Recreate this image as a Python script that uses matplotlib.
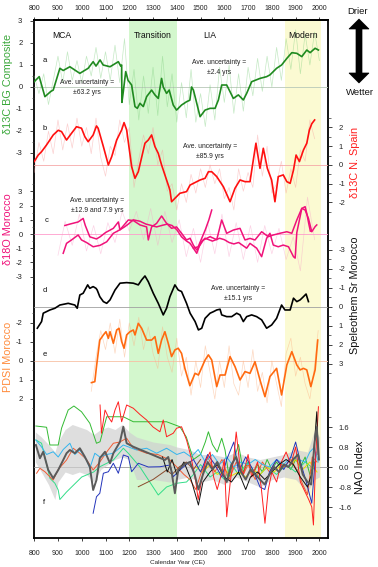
import matplotlib
matplotlib.use("Agg")
import matplotlib.pyplot as plt
from matplotlib.patches import Polygon
from matplotlib.ticker import FixedLocator

plt.rcParams['font.family'] = ['Liberation Sans', 'DejaVu Sans']
plt.rcParams['axes.unicode_minus'] = False

# ---------------- data ----------------
# panel a: d13C BG composite (smoothed)
a_year = [800, 821, 845, 870, 880, 908, 922, 950, 992, 1027, 1048, 1060, 1077, 1090, 1119, 1154, 1164, 1168,
          1169, 1175, 1185, 1195, 1210, 1224, 1234, 1245, 1259, 1273, 1294, 1308, 1322, 1336, 1343, 1357, 1368,
          1385, 1399, 1420, 1441, 1455, 1462, 1470, 1498, 1519, 1540, 1561, 1575, 1589, 1610, 1638, 1659, 1680,
          1694, 1715, 1750, 1778, 1792, 1820, 1841, 1863, 1884, 1905, 1926, 1947, 1961, 1982, 1996]
a_val = [0.24, 0.47, -0.44, -0.2, -0.14, 0.85, 0.75, 0.92, 0.62, 0.85, 1.15, 0.95, 1.23, 1.0, 0.92, 1.15, 0.95, 1.0,
         -0.7, -0.2, 0.7, 0.3, 0.09, -0.89, -0.97, -0.74, -0.89, -0.44, -0.14, -0.36, -0.52, 0.39, 0.0, -0.29, -0.14,
         -0.82, -1.05, -0.82, -0.67, -0.6, 0.0, -0.14, -1.35, -1.05, -0.97, -0.97, -0.59, 0.09, 0.09, -0.52, -0.36, -0.59,
         -0.29, 0.24, 0.39, 0.47, 0.55, 0.85, 1.0, 1.3, 1.56, 1.53, 1.38, 1.68, 1.56, 1.76, 1.68]
a_raw_year = list(range(800, 2001, 20))
a_raw = [0.5, -0.3, 0.6, -0.8, 0.3, 1.4, 0.2, 1.6, 0.3, 1.2, 0.2, 1.4, 0.5, 1.8, 0.4, 1.6, 0.3, 1.9, 0.2, 2.2,
         -0.8, 0.8, -1.5, 0.5, -1.2, 0.9, -1.3, 1.4, -0.9, 0.6, -1.6, 0.2, -1.4, 0.8, -1.6, -0.3, -1.8, 0.1, -1.5, 0.9,
         -0.7, 1.0, -1.2, 0.6, -1.1, 0.9, -0.4, 1.3, -0.2, 1.4, 0.0, 1.8, 0.3, 2.2, 0.8, 2.6, 0.6, 2.4, 1.0, 2.5, 1.2]

# panel b: d13C N. Spain
b_year = [800, 817, 831, 852, 880, 901, 915, 936, 957, 978, 999, 1013, 1027, 1048, 1062, 1069, 1091, 1112, 1126,
          1147, 1168, 1178, 1189, 1210, 1224, 1238, 1266, 1280, 1294, 1308, 1322, 1336, 1357, 1371, 1378, 1392,
          1413, 1441, 1456, 1498, 1519, 1533, 1547, 1568, 1596, 1624, 1645, 1666, 1687, 1708, 1722, 1733, 1750,
          1764, 1781, 1799, 1813, 1827, 1848, 1863, 1877, 1891, 1902, 1916, 1933, 1947, 1958, 1968, 1980]
b_val = [0.18, 0.53, 0.71, 1.07, 1.6, 1.85, 1.78, 1.33, 1.69, 2.04, 1.96, 1.51, 1.24, 1.6, 2.08, 1.96, 0.98, 0.0, 0.44,
         1.33, 1.87, 2.26, 1.87, -0.09, -0.71, -0.36, 1.16, 1.33, 1.6, 0.98, 0.62, 0.0, -0.8, -1.33, -1.96, -1.78,
         -1.51, -1.42, -1.07, -0.8, -0.71, -0.36, -0.36, -0.62, -1.16, -1.96, -1.24, -0.8, -0.89, -0.89, 0.27, 1.16, -0.18,
         0.89, -0.18, -0.8, -1.96, -0.62, -0.53, -0.89, -0.98, -0.27, 0.53, 0.18, 0.8, 1.16, 1.87, 2.2, 2.4]
b_raw_year = list(range(800, 1981, 20))
b_raw = [-0.4, 1.2, 0.2, 1.8, 0.6, 2.4, 0.8, 2.2, 0.9, 2.5, 1.0, 2.0, 0.6, 2.5, 0.4, -0.6, 1.0, 0.5, 2.4, 1.2,
         2.0, -1.2, 0.3, 1.6, 0.6, 2.0, 0.0, 0.8, -1.4, -1.0, -2.4, -1.0, -2.0, -0.5, -1.5, -0.2, -1.2, 0.0, -1.0, -0.2,
         -1.8, -1.2, -2.4, -0.2, -1.4, -0.4, -1.2, 1.6, -0.6, 1.0, -1.5, -1.0, 0.2, -1.5, -0.2, -1.2, 0.8, 0.2, 2.4, 1.4]

# panel c: d18O Morocco (two records)
c1_year = [929, 950, 985, 1006, 1015, 1034, 1062, 1077, 1100, 1133, 1154, 1161, 1180, 1196, 1217, 1245, 1270,
           1294, 1315, 1336, 1360, 1380, 1400, 1420, 1441, 1456, 1484, 1500, 1519, 1550, 1580, 1600, 1620, 1640,
           1660, 1694, 1708, 1736, 1757, 1778, 1792, 1806, 1827, 1848, 1870, 1891, 1898, 1905, 1926, 1940, 1947,
           1955, 1962]
c1_val = [0.6, 0.7, 0.85, 1.1, 0.6, -0.2, -0.35, -0.2, 0.1, 0.4, 0.85, 0.3, 0.5, 0.7, 1.0, 0.9, 0.7,
          0.6, 0.5, 0.6, 0.7, 0.6, 0.3, -0.2, -0.5, -0.66, -1.36, -0.6, -0.3, -0.5, -0.3, -0.4, -0.6, -0.7,
          -0.6, -1.0, -0.66, -1.0, -1.6, -0.3, 0.05, -0.78, -0.9, -0.78, -0.9, -1.6, -1.7, 0.1, 1.8, 1.93, 1.45,
          0.75, 0.2]
c2_year = [922, 936, 957, 985, 999, 1020, 1048, 1077, 1105, 1133, 1161, 1196, 1217, 1245, 1273, 1280, 1294,
           1315, 1336, 1357, 1378, 1399, 1420, 1441, 1456, 1470, 1484, 1512, 1540, 1568, 1589, 1610, 1638, 1666,
           1687, 1708, 1729, 1757, 1785, 1806, 1834, 1863, 1884, 1905, 1926, 1940, 1954, 1968, 1982, 1989]
c2_val = [-1.36, -0.66, -0.42, -0.07, -0.42, -0.6, -0.9, -0.8, -0.55, 0.05, 0.3, 0.99, 0.95, 0.64, 0.5, -0.42, 0.5,
          0.75, 1.27, 0.75, 0.4, 0.5, 0.05, -0.42, -0.3, -0.8, -1.13, -0.42, -0.19, -0.4, 0.99, 0.05, 0.28, 0.4,
          -0.42, -0.31, -0.42, 0.16, -0.19, -0.07, 0.05, 0.16, 0.05, 0.99, 1.81, 1.69, 1.1, 0.16, 0.52, 0.64]
c3_year = [1470, 1490, 1505, 1520, 1535, 1547]
c3_val = [-1.0, -0.9, -0.3, 0.3, 1.0, 1.69]
c_raw_year = list(range(900, 1981, 30))
c_raw = [-1.5, 0.9, -0.8, 1.4, -1.2, 0.6, -1.4, 0.8, -0.6, 1.6, 0.2, 1.6, -0.4, 1.8, -0.8, 1.6, -0.6, 1.0, -1.6,
         0.4, -2.0, 0.8, -1.4, 1.4, -1.6, 0.8, -1.8, 0.6, -2.0, 0.6, -1.4, 0.4, -1.8, -0.2, -2.6, 2.6, -0.4]

# panel d: speleothem Sr Morocco (axis inverted)
d_year = [813, 831, 838, 866, 887, 908, 943, 971, 981, 992, 1006, 1025, 1034, 1048, 1060, 1065, 1076, 1091, 1105,
          1119, 1140, 1161, 1189, 1217, 1238, 1252, 1266, 1280, 1301, 1322, 1343, 1357, 1371, 1392, 1406, 1420,
          1441, 1456, 1477, 1491, 1505, 1519, 1540, 1554, 1568, 1582, 1589, 1610, 1631, 1652, 1666, 1680, 1694,
          1715, 1736, 1757, 1778, 1799, 1820, 1841, 1855, 1877, 1891, 1905, 1919, 1933, 1944, 1954]
d_val = [1.12, 0.77, 0.33, 0.16, 0.07, -0.1, -0.19, -0.1, 0.07, -0.63, -0.72, -1.16, -0.98, -1.07, -0.98, -0.89, -0.54,
         -0.28, -0.19, -0.37, -0.89, -1.25, -1.28, -1.25, -1.16, -1.42, -1.63, -1.33, -0.72, -0.19, 0.42, 0.07, -0.54,
         -1.16, -0.89, -0.81, -0.19, 0.33, 0.77, 1.21, 1.12, 0.6, 0.33, 0.25, 0.16, 0.12, 0.42, 0.51, 0.51, 0.33,
         0.42, 0.77, 0.51, 0.42, 0.51, 0.68, 1.12, 0.95, 0.6, -0.1, 0.16, 0.16, -0.46, -0.28, -0.37, -0.54, -0.68, -0.28]

# panel e: PDSI Morocco (axis inverted)
e_year = [1041, 1055, 1062, 1076, 1091, 1102, 1112, 1119, 1133, 1147, 1157, 1168, 1178, 1189, 1203, 1217, 1224,
          1238, 1252, 1273, 1294, 1308, 1322, 1336, 1350, 1364, 1378, 1392, 1406, 1420, 1434, 1455, 1477, 1491,
          1519, 1533, 1547, 1568, 1582, 1603, 1624, 1645, 1666, 1687, 1708, 1729, 1750, 1771, 1792, 1820, 1841,
          1863, 1884, 1905, 1919, 1933, 1947, 1964, 1982, 1993]
e_val = [1.14, 1.09, 0.3, -1.1, -1.37, -1.54, -1.19, -1.54, -0.93, -1.63, -1.72, -1.02, -0.67, -1.37, -1.54, -1.63, -1.37,
         -1.98, -1.72, -1.1, -1.1, -1.28, -0.4, -1.1, -1.54, -0.93, -0.23, -0.58, -0.67, -0.4, 0.39, 1.3, 0.65, 0.74,
         -0.05, -0.32, -0.05, 1.35, 0.74, 0.74, -0.23, 0.3, 1.0, 0.56, 0.65, 0.04, 1.0, 1.88, 0.82, 0.39, 1.79,
         0.21, -0.49, 0.21, 0.47, 0.39, 0.47, 1.35, 0.47, -1.1]
e_raw_year = [1040, 1060, 1080, 1100, 1120, 1140, 1160, 1180, 1200, 1220, 1240, 1260, 1280, 1300, 1320, 1340, 1360,
              1380, 1400, 1420, 1440, 1460, 1480, 1500, 1520, 1540, 1560, 1580, 1600, 1620, 1640, 1660, 1680, 1700,
              1720, 1740, 1760, 1780, 1800, 1820, 1840, 1860, 1880, 1900, 1920, 1940, 1960, 1980, 1995]
e_raw = [1.6, -0.2, -1.6, -0.6, -2.0, -0.4, -2.2, -0.2, -2.0, -0.8, -2.3, -0.6, -1.8, -0.4, 0.4, -1.8, -0.2,
         0.6, -1.2, 0.8, -0.2, 1.8, 0.0, 1.4, -0.8, 0.6, 2.0, 0.0, 1.4, -0.8, 1.2, 1.8, 0.0, 1.4,
         -0.6, 1.6, 0.6, 2.2, 0.0, 1.2, 2.4, -0.4, -1.2, 0.8, -0.2, 1.2, 2.0, 0.2, -1.6]

# panel f: NAO reconstructions
f_green_year = [807, 852, 866, 901, 915, 943, 967, 999, 1034, 1062, 1077, 1105, 1175, 1217, 1273, 1357, 1413, 1440,
                1470, 1500, 1520, 1533, 1550, 1570, 1589, 1603, 1620, 1640, 1660, 1680, 1700, 1720, 1740, 1760,
                1780, 1800, 1820, 1840, 1860, 1880, 1900, 1920, 1940, 1960, 1980]
f_green = [1.64, 1.59, 0.88, 0.88, 1.55, 2.28, 2.44, 2.21, 1.75, 0.95, 1.01, 2.01, 2.01, 1.81, 1.81, 1.81, 1.61, 1.2,
           0.3, 0.5, 1.0, 1.41, 0.9, 0.6, 1.15, 0.68, -0.4, 0.3, 0.9, -0.2, 0.2, -0.3, 0.1, -0.2,
           0.3, -0.1, 0.2, -0.1, 0.1, -0.1, 0.3, 0.0, 0.4, -0.3, 0.2]
f_lgreen_year = [807, 831, 866, 887, 901, 908, 936, 1000, 1050, 1076, 1133, 1175, 1196, 1245, 1300, 1322, 1357, 1400,
                 1441, 1470, 1500, 1540, 1570, 1600, 1630, 1660, 1700, 1740, 1780, 1820, 1860, 1900, 1940, 1980]
f_lgreen = [1.08, 0.95, -0.45, -0.65, -0.92, -1.3, -1.0, -0.4, -0.2, 0.01, 0.28, 0.75, 0.55, 0.0, -0.8, -1.12, -0.8,
            -0.65, -0.6, -0.3, 0.1, -0.4, -0.2, -0.5, 0.1, -0.3, 0.2, -0.4, 0.0, -0.3, 0.1, -0.2, 0.2, -0.1]
f_red_year = [1077, 1083, 1098, 1112, 1126, 1140, 1154, 1168, 1189, 1217, 1245, 1273, 1300, 1329, 1343, 1357, 1385,
              1399, 1420, 1441, 1460, 1480, 1490, 1505, 1520, 1540, 1555, 1570, 1590, 1600, 1610, 1625, 1640, 1650,
              1665, 1680, 1700, 1715, 1740, 1755, 1771, 1785, 1800, 1820, 1840, 1860, 1880, 1900, 1920, 1940,
              1955, 1968, 1975, 1985, 1996]
f_red = [2.48, 1.35, 2.28, 2.0, 1.8, 2.28, 2.61, 1.81, 2.48, 2.35, 2.1, 1.88, 1.6, 1.41, 1.88, 1.21, 1.35,
         1.55, 1.61, 1.08, 0.4, -0.6, -1.3, -0.5, 0.2, 0.6, -0.4, -0.9, -0.2, 0.3, -1.99, -0.6, 0.4, 1.4,
         0.1, -0.3, 0.5, -0.4, 0.2, -0.8, -2.25, -0.9, -0.2, -0.6, 0.2, 0.6, 0.1, 0.8, -0.6, -1.0,
         -1.3, -1.6, -2.32, 0.5, 2.41]
f_orange_year = [810, 824, 845, 866, 880, 901, 936, 964, 992, 1020, 1048, 1076, 1105, 1133, 1160, 1189, 1217, 1273,
                 1320, 1371, 1400, 1430, 1455, 1480, 1500, 1530, 1560, 1590, 1620, 1650, 1680, 1700, 1730, 1760,
                 1790, 1820, 1850, 1880, 1910, 1930, 1950, 1970, 1990]
f_orange = [-0.25, -0.05, -0.19, -0.39, -0.52, -0.1, 0.28, 0.75, 0.55, 0.3, -0.12, 0.2, 0.6, 0.95, 1.0, 1.15, 0.75, 0.55,
            0.5, 0.28, 0.0, -0.3, -0.5, -0.9, -0.3, 0.4, -0.2, 0.3, -0.5, 0.2, -0.3, 0.1, -0.5, 0.2,
            -0.2, 0.3, 0.0, 0.3, -0.2, -0.7, -1.1, 0.4, 0.2]
f_blue_year = [1048, 1062, 1076, 1091, 1112, 1133, 1154, 1175, 1196, 1210, 1238, 1280, 1329, 1371, 1385, 1413, 1440,
               1470, 1500, 1530, 1560, 1590, 1610, 1640, 1660, 1690, 1720, 1750, 1770, 1790, 1820, 1850, 1880,
               1900, 1920, 1945, 1968, 1985]
f_blue = [-1.85, -1.19, -1.05, -0.25, -0.19, 0.15, -0.25, 0.48, 0.41, -0.19, 0.15, 0.0, 0.01, 0.08, -0.39, -0.12, 0.1,
          0.3, -0.2, 0.5, 0.1, -0.4, 0.3, 1.0, -0.2, 0.4, -0.1, -0.8, -0.9, -0.2, 0.3, -0.1, 0.4,
          1.0, 0.2, -0.6, -1.45, 0.6]
f_cyan_year = [807, 831, 852, 880, 901, 922, 950, 971, 992, 1020, 1034, 1055, 1076, 1105, 1133, 1175, 1231, 1273,
               1315, 1357, 1400, 1430, 1460, 1490, 1520, 1550, 1580, 1610, 1640, 1670, 1700, 1730, 1760, 1790,
               1820, 1850, 1880, 1910, 1940, 1960, 1980, 1995]
f_cyan = [1.08, 0.8, 0.5, 0.61, 0.4, 0.7, 0.95, 0.5, 0.68, 0.28, -0.05, 0.55, 0.4, 0.5, 0.55, 0.88, 0.68, 0.75,
          0.55, 0.75, 0.5, 0.6, 0.4, 0.7, 0.2, 0.5, 0.1, 0.4, 0.0, 0.2, 0.1, 0.3, 0.1, 0.0,
          0.3, 0.1, 0.4, 0.3, 0.2, 0.6, 0.8, 0.2]
f_yellow_year = [1480, 1510, 1540, 1570, 1600, 1630, 1660, 1690, 1720, 1750, 1780, 1810, 1840, 1870, 1900, 1930,
                 1960, 1990]
f_yellow = [0.0, -0.2, 0.1, -0.3, -0.1, -0.35, -0.2, -0.4, -0.1, -0.3, 0.0, -0.2, 0.1, 0.0, 0.3, -0.1, 0.2, -0.2]
f_brown_year = [1238, 1300, 1357, 1380, 1410, 1440, 1470, 1500]
f_brown = [-0.79, -0.5, -0.12, -0.3, 0.0, 0.2, -0.1, 0.3]
f_black_year = [1340, 1360, 1380, 1400, 1430, 1460, 1491, 1510, 1540, 1570, 1600, 1630, 1660, 1690, 1710, 1740,
                1770, 1800, 1830, 1860, 1890, 1920, 1950, 1970, 1989, 1995]
f_black = [0.4, -0.2, 0.3, -0.3, 0.2, -0.5, -1.52, -0.6, -0.2, 0.1, -0.4, -0.6, -0.2, -0.9, -0.4, -0.2,
           -0.5, -0.2, 0.1, 0.3, 0.1, -0.4, -0.8, -0.2, 2.21, 0.5]
f_mean_year = [807, 824, 838, 859, 880, 901, 922, 936, 950, 971, 992, 1013, 1034, 1048, 1062, 1076, 1098, 1119,
               1133, 1161, 1175, 1189, 1217, 1350, 1364, 1378, 1392, 1406, 1430, 1455, 1475, 1491, 1510, 1530,
               1550, 1570, 1590, 1610, 1630, 1650, 1670, 1690, 1710, 1730, 1750, 1770, 1790, 1810, 1830, 1850,
               1870, 1890, 1910, 1930, 1950, 1965, 1980, 1989, 1998]
f_mean = [0.88, 0.35, 0.61, -0.12, -0.45, -0.12, 0.28, 0.55, 0.68, 0.55, 0.75, 0.41, 0.01, -0.92, -0.52, 0.35, 0.61, 0.15,
          0.55, 1.01, 1.61, 0.95, 0.81, 0.28, 0.4, -0.19, -1.05, -0.12, 0.1, 0.2, -0.3, -0.9, -0.3, 0.2,
          -0.1, 0.2, -0.2, -0.6, 0.1, 0.4, -0.2, -0.5, -0.1, -0.3, -0.5, -0.7, -0.3, 0.0, -0.2, 0.1,
          0.0, 0.3, 0.5, -0.3, -0.6, -0.7, 1.0, 1.6, 0.3]
f_band_year = [805, 830, 860, 887, 900, 930, 960, 990, 1020, 1050, 1080, 1110, 1140, 1170, 1200, 1230, 1300, 1370,
               1400, 1450, 1500, 1550, 1600, 1650, 1700, 1750, 1800, 1850, 1900, 1950, 1980, 2000]
f_band_hi = [1.4, 1.2, 0.9, 0.6, 1.0, 1.5, 1.7, 1.6, 1.5, 1.3, 1.5, 1.6, 1.5, 1.7, 1.4, 1.2, 1.0, 0.9,
             0.8, 0.7, 0.5, 0.5, 0.4, 0.6, 0.4, 0.3, 0.4, 0.5, 0.7, 0.6, 1.5, 1.2]
f_band_lo = [0.2, -0.2, -0.7, -1.3, -0.6, -0.2, -0.3, -0.2, -0.3, -0.6, -0.1, 0.1, 0.3, 0.4, 0.3, -0.5, -0.5, -0.6,
             -0.5, -0.4, -0.6, -0.5, -0.7, -0.4, -0.6, -0.8, -0.5, -0.4, -0.5, -1.0, -0.5, -0.4]

x_ticks = list(range(800, 2001, 100))
periods = [("MCA", 62), ("Transition", 153), ("LIA", 210), ("Modern", 303)]

# ---------------- layout ----------------
W, H = 378, 567
fig = plt.figure(figsize=(W / 100, H / 100), dpi=100)


def fx(px):
    return px / W


def fy(py):
    return 1 - py / H


L, R, T, B = 33.5, 327.7, 20, 538
rect = [fx(L), fy(B), (R - L) / W, (B - T) / H]
XLIM = (797, 2035)

ax = fig.add_axes(rect)
ax.set_xlim(*XLIM)
ax.set_ylim(0, 1)
ax.set_yticks([])
ax.axvspan(1200, 1400, color='#d3f7cd', lw=0, zorder=0)
ax.axvspan(1855, 2007, color='#fbfad2', lw=0, zorder=0)
for s in ax.spines.values():
    s.set_linewidth(1.3)
ax.set_xticks(x_ticks)
ax.tick_params(axis='x', labelsize=5, length=2, width=0.6, pad=6.5, colors='#222222')
sec = ax.secondary_xaxis('top')
sec.set_xticks(x_ticks)
sec.tick_params(axis='x', labelsize=5, length=2, width=0.6, pad=4, colors='#222222')
sec.spines['top'].set_linewidth(1.3)


def overlay(ylim, side, ticks, minor):
    a = fig.add_axes(rect, sharex=ax)
    a.patch.set_visible(False)
    for s in a.spines.values():
        s.set_visible(False)
    a.tick_params(axis='x', which='both', bottom=False, top=False, labelbottom=False, labeltop=False)
    a.set_ylim(*ylim)
    a.yaxis.set_ticks_position(side)
    a.set_yticks(ticks)
    a.yaxis.set_minor_locator(FixedLocator(minor))
    a.tick_params(axis='y', which='major', labelsize=5.5, length=3, width=0.6, pad=5, colors='#222222')
    a.tick_params(axis='y', which='minor', length=1.8, width=0.5, colors='#333333')
    return a


# panel a
axa = overlay((-20.5, 3.045), 'left', [3, 2, 1, 0, -1, -2, -3],
              [2.5, 1.5, 0.5, -0.5, -1.5, -2.5])
axa.axhline(0, color='#b8c8b8', lw=0.6, zorder=1)
axa.plot(a_raw_year, a_raw, color='#7fcf7f', lw=0.5, alpha=0.45, zorder=2)
axa.plot(a_year, a_val, color='#1f8a1f', lw=1.2, zorder=3)

# panel b
axb = overlay((-19.89, 7.73), 'right', [2, 1, 0, -1, -2], [2.5, 1.5, 0.5, -0.5, -1.5, -2.5])
axb.axhline(0, color='#f6a8a8', lw=0.6, zorder=1)
axb.plot(b_raw_year, b_raw, color='#f79a9a', lw=0.5, alpha=0.45, zorder=2)
axb.plot(b_year, b_val, color='#ff1010', lw=1.2, zorder=3)

# panel c
axc = overlay((-21.45, 15.1), 'left', [3, 2, 1, 0, -1, -2, -3],
              [3.5, 2.5, 1.5, 0.5, -0.5, -1.5, -2.5, -3.5])
axc.axhline(0, color='#ff9ccc', lw=0.6, zorder=1)
axc.plot(c_raw_year, c_raw, color='#f8a0c8', lw=0.5, alpha=0.45, zorder=2)
axc.plot(c1_year, c1_val, color='#f0127a', lw=1.1, zorder=3)
axc.plot(c2_year, c2_val, color='#f0127a', lw=1.1, zorder=3)
axc.plot(c3_year, c3_val, color='#f0127a', lw=1.1, zorder=3)

# panel d
axd = overlay((12.16, -15.1), 'right', [-3, -2, -1, 0, 1, 2, 3],
              [-3.5, -2.5, -1.5, -0.5, 0.5, 1.5, 2.5, 3.5])
axd.axhline(0, color='#a0a0a0', lw=0.6, zorder=1)
axd.plot(d_year, d_val, color='#000000', lw=1.2, zorder=3)

# panel e
axe = overlay((9.32, -17.95), 'left', [-2, -1, 0, 1, 2], [-2.5, -1.5, -0.5, 0.5, 1.5, 2.5])
axe.axhline(0, color='#f7c0a4', lw=0.6, zorder=1)
axe.plot(e_raw_year, e_raw, color='#fbb183', lw=0.5, alpha=0.5, zorder=2)
axe.plot(e_year, e_val, color='#ff6a10', lw=1.2, zorder=3)

# panel f
axf = overlay((-2.84, 17.88), 'right', [1.6, 0.8, 0, -0.8, -1.6], [2.0, 1.2, 0.4, -0.4, -1.2, -2.0])
axf.axhline(0, color='#9a9a9a', lw=0.6, zorder=1)
axf.fill_between(f_band_year, f_band_lo, f_band_hi, color='#d0d0d0', alpha=0.7, lw=0, zorder=1)
axf.plot(f_green_year, f_green, color='#33bb33', lw=0.7, zorder=3)
axf.plot(f_lgreen_year, f_lgreen, color='#33dd88', lw=0.7, zorder=3)
axf.plot(f_yellow_year, f_yellow, color='#e6dc00', lw=0.7, zorder=3)
axf.plot(f_brown_year, f_brown, color='#8b4a2b', lw=0.7, zorder=3)
axf.plot(f_orange_year, f_orange, color='#f05a32', lw=0.7, zorder=3)
axf.plot(f_cyan_year, f_cyan, color='#33b5ee', lw=0.7, zorder=3)
axf.plot(f_blue_year, f_blue, color='#2233bb', lw=0.7, zorder=3)
axf.plot(f_red_year, f_red, color='#ff2020', lw=0.7, zorder=3)
axf.plot(f_black_year, f_black, color='#111111', lw=0.7, zorder=3)
axf.plot(f_mean_year, f_mean, color='#5a5a5a', lw=1.4, zorder=4)

# ---------------- texts ----------------
for name, px in periods:
    fig.text(fx(px), fy(36), name, fontsize=6.2, ha='center', va='center', color='#111111')

for letter, (px, py) in zip("abcdef", [(45, 61), (45, 128), (47, 220), (45, 291), (45, 355), (44, 502)]):
    fig.text(fx(px), fy(py), letter, fontsize=5.5, ha='center', va='center', color='#111111')

unc = [("\u00b163.2 yrs", 87, 82), ("\u00b12.4 yrs", 219, 62), ("\u00b185.9 yrs", 210, 146),
       ("\u00b112.9 and 7.9 yrs", 97, 200), ("\u00b115.1 yrs", 238, 288)]
for txt, px, py in unc:
    fig.text(fx(px), fy(py), "Ave. uncertainty =", fontsize=4.9, ha='center', va='center', color='#222222')
    fig.text(fx(px), fy(py + 10), txt, fontsize=4.9, ha='center', va='center', color='#222222')

lab_kw = dict(rotation=90, fontsize=7.8, ha='center', va='center')
fig.text(fx(8.5), fy(84), "\u03b413C BG Composite", color='#3aa83a', **lab_kw)
fig.text(fx(8.5), fy(229), "\u03b418O Morocco", color='#f0127a', **lab_kw)
fig.text(fx(8.5), fy(357), "PDSI Morocco", color='#ff8a3a', **lab_kw)
fig.text(fx(355), fy(162), "\u03b413C N. Spain", color='#ff2020', **lab_kw)
fig.text(fx(355), fy(295), "Speleothem Sr Morocco", color='#111111', **lab_kw)
fig.text(fx(360), fy(467), "NAO Index", color='#111111', **lab_kw)

fig.text(fx(358), fy(12), "Drier", fontsize=6.8, ha='center', va='center', color='#111111')
fig.text(fx(360), fy(93), "Wetter", fontsize=6.8, ha='center', va='center', color='#111111')

# double-headed arrow
cx = 359
pts = [(cx, 19), (cx + 10, 29), (cx + 3, 29), (cx + 3, 73), (cx + 10, 73), (cx, 83),
       (cx - 10, 73), (cx - 3, 73), (cx - 3, 29), (cx - 10, 29)]
fig.patches.append(Polygon([(fx(x), fy(y)) for x, y in pts], closed=True, transform=fig.transFigure,
                           facecolor='black', edgecolor='black', lw=0.5))

fig.text(fx(178), fy(562.5), "Calendar Year (CE)", fontsize=4.6, ha='center', va='center', color='#222222')

fig.savefig("out.png", dpi=100)
